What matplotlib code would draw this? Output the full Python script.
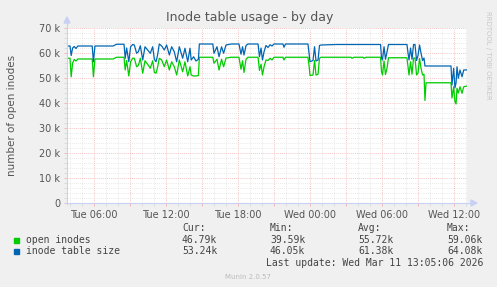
import matplotlib
matplotlib.use("Agg")
import matplotlib.pyplot as plt
from matplotlib.ticker import MultipleLocator, FuncFormatter

# ---------------- data (hours after Tue 00:00, values in thousands) -------------
hours = [3.75, 4.00, 4.10, 4.22, 4.35, 4.50, 4.65, 5.85, 5.95, 6.08, 7.60, 7.75, 7.90, 8.50,
         8.60, 8.72, 8.90, 9.05, 9.22, 9.36, 9.55, 9.70, 9.86, 10.06, 10.25, 10.47, 10.69,
         10.89, 11.03, 11.17, 11.31, 11.44, 11.64, 11.86, 12.05, 12.28, 12.47, 12.69, 12.89,
         13.11, 13.39, 13.58, 13.81, 14.00, 14.10, 14.30, 14.50, 14.70, 14.78,
         15.90, 16.00, 16.25, 16.42, 16.63, 16.80, 17.00, 17.42,
         18.08, 18.25, 18.38, 18.50, 18.67, 18.83,
         19.67, 19.79, 19.92, 20.04, 20.17, 20.33, 20.50, 20.67, 20.83, 21.00,
         21.75, 21.83, 21.96, 23.83,
         23.92, 24.00, 24.25, 24.38, 24.50, 24.67, 24.79, 24.92, 26.17,
         27.42, 27.50, 27.67, 28.42, 28.50, 28.67, 29.88,
         29.96, 30.04, 30.17, 30.29, 30.42, 30.54, 32.08,
         32.17, 32.25, 32.38, 32.50, 32.63, 32.75, 32.88, 33.00, 33.13, 33.25, 33.38, 33.50,
         33.58, 33.67, 35.75,
         35.83, 35.97, 36.08, 36.17, 36.25, 36.36, 36.50, 36.67, 36.81, 37.08]

open_inodes = [57.9, 57.9, 50.5, 56.0, 57.4, 56.8, 57.6, 57.6, 50.5, 57.6, 57.6, 58.0, 58.3, 58.3,
               53.2, 57.0, 50.8, 56.5, 57.9, 57.9, 54.5, 55.0, 57.9, 51.9, 56.9, 55.5, 53.9,
               56.9, 52.2, 51.9, 54.5, 57.9, 57.2, 54.5, 57.2, 53.2, 56.5, 54.5, 51.2,
               57.2, 52.5, 56.5, 50.8, 54.5, 51.2, 50.8, 50.8, 51.0, 58.3,
               58.3, 55.9, 57.5, 53.2, 57.5, 54.5, 58.0, 58.3,
               58.3, 53.5, 56.9, 52.2, 57.5, 58.3,
               58.3, 53.0, 55.5, 51.2, 54.5, 57.2, 57.0, 57.9, 57.2, 58.3,
               58.3, 57.2, 58.3, 58.3,
               55.0, 51.0, 51.2, 57.0, 51.2, 51.5, 57.9, 58.3, 58.3,
               58.3, 57.9, 58.3, 58.3, 57.9, 58.3, 58.3,
               52.5, 51.2, 56.8, 51.4, 54.0, 58.1, 58.1,
               54.5, 51.2, 56.5, 51.5, 58.0, 58.0, 51.2, 52.0, 57.8, 54.0, 51.2, 51.5,
               41.0, 48.1, 48.1,
               42.0, 46.5, 40.5, 39.6, 45.9, 44.0, 46.5, 43.9, 46.5, 46.79]

table_size = [62.8, 62.8, 59.0, 62.0, 62.6, 61.8, 62.8, 62.8, 56.5, 62.8, 62.8, 63.2, 63.5, 63.5,
              57.9, 62.0, 56.5, 62.5, 63.4, 63.2, 59.9, 60.5, 62.9, 57.2, 62.5, 61.2, 59.9,
              62.5, 57.5, 56.5, 59.5, 63.6, 62.8, 61.2, 63.2, 59.2, 62.5, 60.5, 56.5,
              62.5, 57.9, 61.9, 56.5, 61.9, 57.2, 58.5, 56.8, 57.5, 63.6,
              63.6, 59.9, 62.5, 58.5, 62.5, 59.9, 63.2, 63.6,
              63.6, 59.5, 62.5, 59.2, 63.0, 63.6,
              63.6, 58.5, 62.0, 57.2, 60.5, 63.0, 62.2, 63.3, 62.8, 63.6,
              63.6, 62.3, 63.6, 63.6,
              60.0, 56.5, 57.0, 62.5, 56.8, 57.2, 63.0, 63.2, 63.4,
              63.4, 63.4, 63.4, 63.4, 63.4, 63.4, 63.4,
              58.0, 57.2, 62.5, 57.5, 60.5, 63.4, 63.4,
              60.0, 57.2, 62.0, 57.5, 63.4, 63.4, 57.0, 59.0, 63.2, 60.0, 57.0, 58.0,
              54.8, 54.8, 54.8,
              47.2, 53.9, 46.1, 48.0, 54.5, 49.9, 53.2, 50.5, 53.2, 53.24]

series_names = ["open inodes", "inode table size"]
series_colors = ["#00CC00", "#0066B3"]
stat_headers = ["Cur:", "Min:", "Avg:", "Max:"]
stats_open = ["46.79k", "39.59k", "55.72k", "59.06k"]
stats_table = ["53.24k", "46.05k", "61.38k", "64.08k"]

x_tick_hours = [6, 12, 18, 24, 30, 36]
x_tick_labels = ["Tue 06:00", "Tue 12:00", "Tue 18:00", "Wed 00:00", "Wed 06:00", "Wed 12:00"]
y_ticks = [0, 10, 20, 30, 40, 50, 60, 70]
y_tick_labels = ["0", "10 k", "20 k", "30 k", "40 k", "50 k", "60 k", "70 k"]

title = "Inode table usage - by day"
y_label = "number of open inodes"
last_update = "Last update: Wed Mar 11 13:05:06 2026"
footer = "Munin 2.0.57"
side_text = "RRDTOOL / TOBI OETIKER"

# ---------------- figure ----------------
W, H = 497, 287
fig = plt.figure(figsize=(W / 100, H / 100), dpi=100, facecolor="#F0F0F0")


def px(x, y):
    return x / W, 1 - y / H


L, R, T, B = 67, 467, 28, 203
ax = fig.add_axes([L / W, 1 - B / H, (R - L) / W, (B - T) / H])
ax.set_facecolor("white")
ax.set_xlim(3.75, 37.0833)
ax.set_ylim(0, 70)
for s in ax.spines.values():
    s.set_visible(False)

ax.xaxis.set_major_locator(MultipleLocator(3))
ax.xaxis.set_minor_locator(MultipleLocator(1))
ax.yaxis.set_major_locator(MultipleLocator(10))
ax.yaxis.set_minor_locator(MultipleLocator(2))

ax.grid(which="minor", color="#E2E2E2", linestyle=(0, (1, 1.5)), linewidth=0.6)
ax.grid(which="major", color="#F4B0B0", linestyle=(0, (1, 1.5)), linewidth=0.6)
ax.set_axisbelow(True)

lab = dict(zip(x_tick_hours, x_tick_labels))
ax.xaxis.set_major_formatter(FuncFormatter(lambda v, p: lab.get(int(round(v)), "") if abs(v - round(v)) < 1e-6 else ""))
ax.set_yticks(y_ticks)
ax.set_yticklabels(y_tick_labels)
ax.tick_params(axis="both", which="both", length=2, width=0.6, colors="#555555", labelsize=7, pad=3)
ax.tick_params(axis="x", which="major", color="#F4B0B0")
ax.tick_params(axis="y", which="major", color="#F4B0B0")
ax.tick_params(axis="both", which="minor", color="#D8D8D8")

ax.plot(hours, open_inodes, color=series_colors[0], lw=0.9, zorder=3)
ax.plot(hours, table_size, color=series_colors[1], lw=0.9, zorder=4)

# axes lines with arrows (Munin style)
axcol = "#C8D0F4"
fig.add_artist(plt.Line2D([L / W, L / W], [1 - (B + 1) / H, 1 - 21 / H], color=axcol, lw=0.8))
fig.add_artist(plt.Line2D([(L - 1) / W, 472 / W], [1 - B / H, 1 - B / H], color=axcol, lw=0.8))
fig.add_artist(plt.Polygon([px(64, 23), px(70, 23), px(67, 17)], closed=True, color=axcol))
fig.add_artist(plt.Polygon([px(471, 200), px(471, 206), px(477, 203)], closed=True, color=axcol))

# texts
fig.text(*px(250, 18), title, ha="center", va="center", fontsize=9, color="#555555")
fig.text(*px(12, 115), y_label, ha="center", va="center", rotation=90, fontsize=7.5, color="#555555")
fig.text(*px(488, 55), side_text, ha="center", va="center", rotation=-90, fontsize=5, color="#C8C8C8")

mono = "DejaVu Sans Mono"
fs = 7
col_left = [182, 270, 358, 447]
for hx, hdr in zip(col_left, stat_headers):
    fig.text(*px(hx, 228), hdr, ha="left", va="center", fontsize=fs, family=mono, color="#444444")

rows = [(240, stats_open), (251, stats_table)]
for (yy, vals), name, c in zip(rows, series_names, series_colors):
    fig.add_artist(plt.Rectangle(px(14, yy + 2.5), 5 / W, 5 / H, color=c, transform=fig.transFigure))
    fig.text(*px(26, yy), name, ha="left", va="center", fontsize=fs, family=mono, color="#444444")
    for hx, v in zip(col_left, vals):
        fig.text(*px(hx, yy), v, ha="left", va="center", fontsize=fs, family=mono, color="#444444")

fig.text(*px(483, 263), last_update, ha="right", va="center", fontsize=fs, family=mono, color="#444444")
fig.text(*px(248, 277), footer, ha="center", va="center", fontsize=5, color="#BBBBBB")

fig.savefig("out.png", dpi=100, facecolor=fig.get_facecolor())
